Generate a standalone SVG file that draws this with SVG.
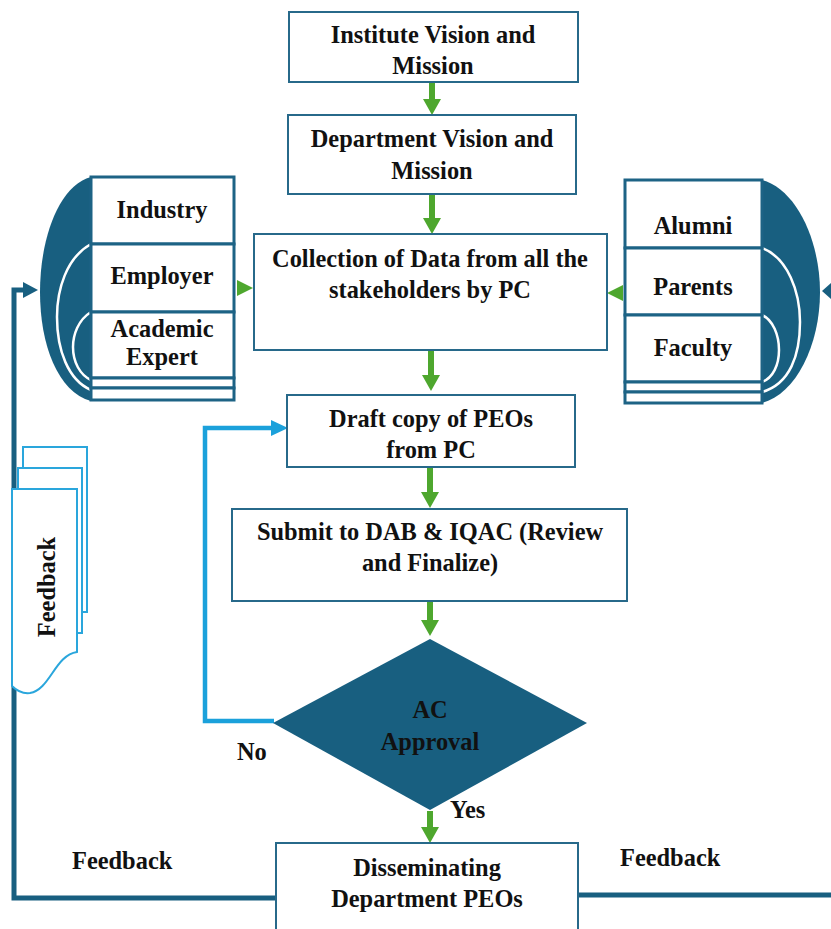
<svg xmlns="http://www.w3.org/2000/svg" width="831" height="929" viewBox="0 0 831 929">
  <style>
    .box { fill: #ffffff; stroke: #27698a; stroke-width: 2; }
    .row { fill: #ffffff; stroke: #1d6385; stroke-width: 3; }
    .t { font-family: "Liberation Serif", "Times New Roman", serif; font-weight: bold; font-size: 24.4px; fill: #111111; text-anchor: middle; }
    .tl { font-family: "Liberation Serif", "Times New Roman", serif; font-weight: bold; font-size: 24.4px; fill: #111111; }
    .shell { fill: #185f80; }
    .arc { fill: none; stroke: #ffffff; stroke-width: 2.5; }
    .flow { stroke: #4ea72e; stroke-width: 6; fill: none; }
    .fb { stroke: #185f80; stroke-width: 5; fill: none; }
    .loop { stroke: #1ba1db; stroke-width: 4.5; fill: none; }
    .doc { fill: #ffffff; stroke: #2aa6dc; stroke-width: 2; }
  </style>
  <defs>
    <marker id="greenHead" markerUnits="userSpaceOnUse" markerWidth="18" markerHeight="18" refX="0" refY="9" orient="auto">
      <path d="M0,0 L16,9 L0,18 Z" fill="#4ea72e"/>
    </marker>
    <marker id="loopHead" markerUnits="userSpaceOnUse" markerWidth="18" markerHeight="16" refX="0" refY="8" orient="auto">
      <path d="M0,0 L17,8 L0,16 Z" fill="#1ba1db"/>
    </marker>
    <marker id="fbHead" markerUnits="userSpaceOnUse" markerWidth="18" markerHeight="16" refX="0" refY="8" orient="auto">
      <path d="M0,0 L15,8 L0,16 Z" fill="#185f80"/>
    </marker>
  </defs>

  <!-- connectors -->
  <g id="connectors">
    <line class="flow" x1="432" y1="82" x2="432" y2="99" marker-end="url(#greenHead)"/>
    <line class="flow" x1="432" y1="194" x2="432" y2="218" marker-end="url(#greenHead)"/>
    <line class="flow" x1="431" y1="351" x2="431" y2="375" marker-end="url(#greenHead)"/>
    <line class="flow" x1="430" y1="468" x2="430" y2="492" marker-end="url(#greenHead)"/>
    <line class="flow" x1="430" y1="602" x2="430" y2="620" marker-end="url(#greenHead)"/>
    <line class="flow" x1="430" y1="811" x2="430" y2="827" marker-end="url(#greenHead)"/>
    <!-- side inputs into the data collection box -->
    <polygon points="237,280 253,288 237,296" fill="#4ea72e"/>
    <polygon points="623,285 607,293 623,301" fill="#4ea72e"/>
    <!-- rejection loop back to the draft -->
    <polyline class="loop" points="274,721 205,721 205,428 271,428" marker-end="url(#loopHead)"/>
    <!-- feedback paths -->
    <polyline class="fb" points="277,898 14,898 14,290 23,290" marker-end="url(#fbHead)"/>
    <line class="fb" x1="578" y1="895" x2="831" y2="895"/>
    <polygon points="831,283 822,291 831,299" fill="#185f80"/>
  </g>

  <!-- stacked feedback documents -->
  <g id="feedback-docs">
    <path class="doc" d="M23,447 H87 V612 H23 Z"/>
    <path class="doc" d="M18,468 H82 V633 H18 Z"/>
    <path class="doc" d="M12,489 H77 V652 C55,655 50,690 30,693 C22,694 16,690 12,686 Z"/>
    <text class="t" transform="translate(55,587) rotate(-90)">Feedback</text>
  </g>

  <g id="institute">
    <rect class="box" x="289" y="12" width="289" height="70"/>
    <text class="t" x="433" y="43">Institute Vision and</text>
    <text class="t" x="433" y="74">Mission</text>
  </g>

  <g id="department">
    <rect class="box" x="288" y="115" width="288" height="79"/>
    <text class="t" x="432" y="147">Department Vision and</text>
    <text class="t" x="432" y="179">Mission</text>
  </g>

  <g id="collection">
    <rect class="box" x="254" y="234" width="353" height="116"/>
    <text class="t" x="430" y="267">Collection of Data from all the</text>
    <text class="t" x="430" y="298">stakeholders by PC</text>
  </g>

  <g id="stakeholders-left">
    <path class="shell" d="M91,177 C58,186 40,240 40,292 C40,345 58,392 91,401 Z"/>
    <path class="arc" d="M91,244 C66,258 57,290 57,317 C57,350 68,380 91,390"/>
    <path class="arc" d="M91,312 C78,320 73,335 73,347 C73,362 80,375 91,380"/>
    <rect class="row" x="91" y="177" width="143" height="67"/>
    <rect class="row" x="91" y="244" width="143" height="68"/>
    <rect class="row" x="91" y="312" width="143" height="66"/>
    <rect class="row" x="91" y="378" width="143" height="10"/>
    <rect class="row" x="91" y="388" width="143" height="12"/>
    <text class="t" x="162" y="218">Industry</text>
    <text class="t" x="162" y="284">Employer</text>
    <text class="t" x="162" y="337">Academic</text>
    <text class="t" x="162" y="365">Expert</text>
  </g>

  <g id="stakeholders-right">
    <path class="shell" d="M762,180 C796,189 820,240 820,292 C820,345 796,394 762,403 Z"/>
    <path class="arc" d="M762,248 C788,258 800,292 800,322 C800,355 790,384 762,392"/>
    <path class="arc" d="M762,315 C773,320 779,335 779,350 C779,365 773,378 762,382"/>
    <rect class="row" x="625" y="180" width="137" height="68"/>
    <rect class="row" x="625" y="248" width="137" height="67"/>
    <rect class="row" x="625" y="315" width="137" height="67"/>
    <rect class="row" x="625" y="382" width="137" height="10"/>
    <rect class="row" x="625" y="392" width="137" height="11"/>
    <text class="t" x="693" y="234">Alumni</text>
    <text class="t" x="693" y="295">Parents</text>
    <text class="t" x="693" y="356">Faculty</text>
  </g>

  <g id="draft">
    <rect class="box" x="287" y="395" width="288" height="72"/>
    <text class="t" x="431" y="427">Draft copy of PEOs</text>
    <text class="t" x="431" y="458">from PC</text>
  </g>

  <g id="submit">
    <rect class="box" x="232" y="509" width="395" height="92"/>
    <text class="t" x="430" y="540">Submit to DAB &amp; IQAC (Review</text>
    <text class="t" x="430" y="571">and Finalize)</text>
  </g>

  <g id="approval">
    <polygon points="430,639 587,723 430,810 273,723" fill="#185f80"/>
    <text class="t" x="430" y="718">AC</text>
    <text class="t" x="430" y="750">Approval</text>
    <text class="tl" x="237" y="760">No</text>
    <text class="tl" x="450" y="818">Yes</text>
  </g>

  <g id="disseminate">
    <rect class="box" x="276" y="843" width="302" height="96"/>
    <text class="t" x="427" y="876">Disseminating</text>
    <text class="t" x="427" y="907">Department PEOs</text>
  </g>

  <g id="feedback-labels">
    <text class="tl" x="72" y="869">Feedback</text>
    <text class="tl" x="620" y="866">Feedback</text>
  </g>
</svg>
